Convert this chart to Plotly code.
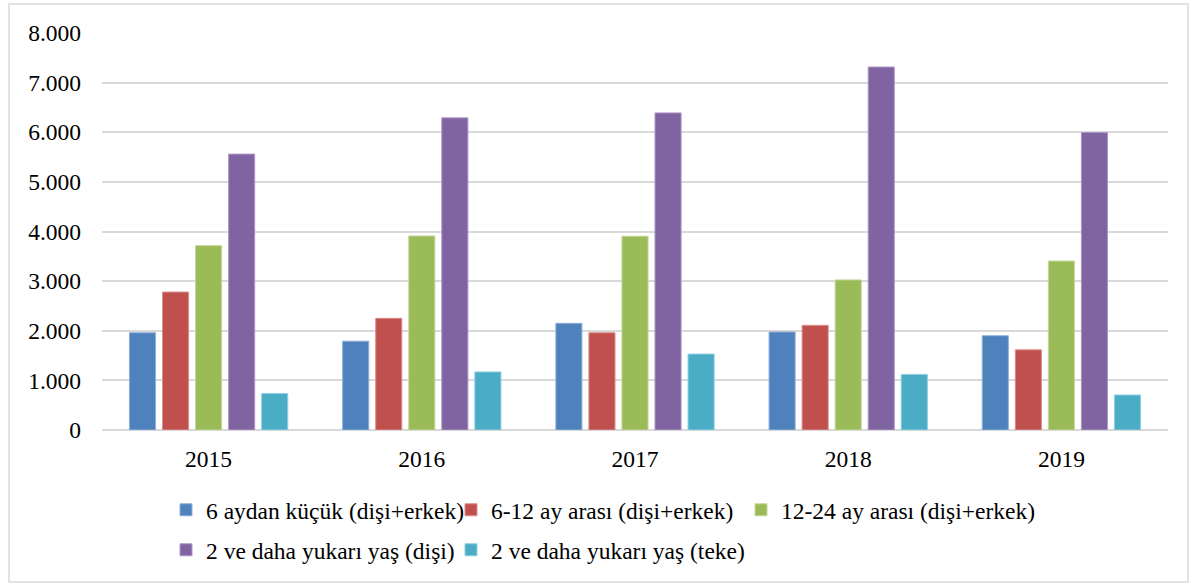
import plotly.graph_objects as go

years = ["2015", "2016", "2017", "2018", "2019"]
series_names = [
    "6 aydan küçük (dişi+erkek)",
    "6-12 ay arası (dişi+erkek)",
    "12-24 ay arası (dişi+erkek)",
    "2 ve daha yukarı yaş (dişi)",
    "2 ve daha yukarı yaş (teke)",
]
s1 = [1960, 1790, 2150, 1975, 1900]
s2 = [2780, 2250, 1960, 2110, 1615]
s3 = [3715, 3910, 3905, 3025, 3405]
s4 = [5560, 6290, 6390, 7315, 5995]
s5 = [735, 1170, 1530, 1120, 705]
colors = ["#4F81BD", "#C0504D", "#9BBB59", "#8064A2", "#4BACC6"]
edge = ["#8fb0d9", "#dc8f8c", "#c3d89a", "#ad98c6", "#8ccfe0"]

W, H = 1194, 586
L, R, T, B = 102, 26, 33, 156
pw, ph = W - L - R, H - T - B

FAM = "Liberation Serif"
FS = 23.5

# legend square left edge (px) and row centre (px) for each series
leg_px = [(183, 510), (468, 510), (758, 510), (183, 550), (468, 550)]
legend_ids = ["legend", "legend2", "legend3", "legend4", "legend5"]

fig = go.Figure()
for name, vals, c, e, lg in zip(series_names, [s1, s2, s3, s4, s5], colors, edge, legend_ids):
    fig.add_trace(go.Bar(x=years, y=vals, name=name, legend=lg,
                         marker=dict(color=c, line=dict(color=e, width=1))))


def ypaper(py):
    return (H - B - py) / ph


def xpaper(px):
    return (px - L) / pw


legends = {}
for lg, (sx, cy) in zip(legend_ids, leg_px):
    legends[lg] = dict(orientation="h", xanchor="left", yanchor="middle",
                       x=xpaper(sx - 17), y=ypaper(cy),
                       font=dict(family=FAM, size=FS, color="#000000"),
                       itemwidth=30, bgcolor="rgba(0,0,0,0)")

fig.update_layout(
    width=W, height=H,
    margin=dict(l=L, r=R, t=T, b=B),
    paper_bgcolor="white", plot_bgcolor="white",
    barmode="group", bargap=0.225, bargroupgap=0.21,
    separators=",.",
    font=dict(family=FAM, size=FS, color="#000000"),
    showlegend=True,
    xaxis=dict(showgrid=False, showline=False, ticks="",
               tickfont=dict(family=FAM, size=FS, color="#000000"),
               ticklabelstandoff=12),
    yaxis=dict(range=[0, 8000], dtick=1000, tickformat=",d", showgrid=True,
               gridcolor="#d9d9d9", gridwidth=1.5, zeroline=True, zerolinecolor="#d9d9d9",
               zerolinewidth=1.5, showline=False, ticks="",
               tickfont=dict(family=FAM, size=FS, color="#000000"),
               ticklabelstandoff=20),
    shapes=[dict(type="rect", xref="paper", yref="paper",
                 x0=xpaper(9), x1=xpaper(1188),
                 y0=ypaper(582), y1=ypaper(4),
                 line=dict(color="#d9d9d9", width=1.5), fillcolor="rgba(0,0,0,0)",
                 layer="below")],
    **legends,
)

fig.write_html("out.html", config={"displayModeBar": False},
               post_script="document.body.style.margin='0';")
